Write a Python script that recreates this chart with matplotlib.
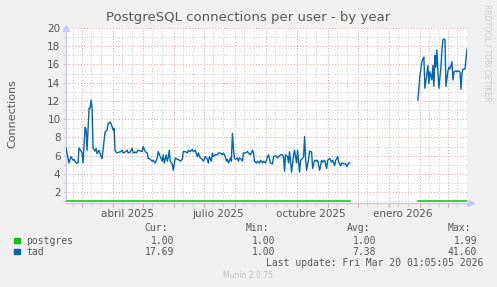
import numpy as np
import matplotlib
matplotlib.use("Agg")
import matplotlib.pyplot as plt
import matplotlib.dates as mdates
import matplotlib.transforms as mtransforms

# time window of the munin "by year" graph (400 days up to last update)
start = np.datetime64("2025-02-13T01:05")
end = np.datetime64("2026-03-20T01:05")

# tad: days since start, value (nan = gap with no data)
tad_days = [0, 3, 5, 7, 8, 10, 12, 13, 15, 16, 17, 19, 20, 21, 23, 24, 25, 26, 27, 29,
            30, 31, 33, 35, 36, 37, 39, 41, 42, 44, 46, 47, 48, 49, 51, 53, 54, 56, 57, 59,
            61, 62, 64, 66, 67, 69, 70, 72, 76, 77, 79, 81, 82, 84, 86, 87, 89, 91, 92, 94,
            96, 97, 98, 100, 101, 102, 103, 104, 106, 107, 108, 109, 111, 112, 114, 116, 117, 119, 121, 122,
            124, 126, 127, 129, 131, 132, 134, 136, 137, 139, 141, 142, 143, 145, 146, 147, 149, 151, 152, 154,
            156, 157, 159, 160, 161, 162, 164, 165, 166, 167, 168, 169, 171, 172, 173, 175, 176, 177, 179, 181,
            182, 184, 186, 187, 188, 190, 191, 193, 194, 196, 197, 199, 201, 202, 204, 206, 207, 209, 211, 212,
            214, 216, 217, 218, 219, 221, 222, 223, 225, 227, 228, 230, 231, 233, 234, 236, 237, 238, 239, 240,
            242, 243, 245, 246, 248, 250, 251, 253, 255, 256, 258, 260, 261, 263, 265, 266, 268, 269, 271, 272,
            274, 275, 277, 279, 280, 282, 283,
            300,
            351, 353, 355, 356, 357, 358, 360, 361, 362, 363, 365, 366, 367, 368, 369, 370, 371, 372, 374, 375,
            376, 377, 378, 379, 381, 382, 383, 385, 386, 387, 389, 390, 391, 393, 394, 395, 396, 398, 400]
tad_vals = [6.85, 5.2, 5.9, 5.5, 5.6, 5.2, 5.2, 6.85, 6.5, 6.3, 5.2, 9.1, 8.9, 6.6, 11.2, 11.2, 12.1, 11.3, 6.8, 6.5,
            6.8, 6.2, 6.6, 5.9, 5.7, 6.7, 8.6, 8.8, 9.5, 9.7, 9.2, 8.8, 9.0, 6.5, 6.3, 6.4, 6.4, 6.6, 6.3, 6.4,
            6.6, 6.3, 6.4, 6.8, 6.3, 6.4, 6.3, 6.6, 6.45, 7.0, 6.45, 6.3, 5.75, 5.6, 5.4, 5.5, 5.2, 5.75, 6.45, 5.9,
            5.4, 6.1, 5.2, 6.1, 5.4, 5.75, 6.6, 5.4, 5.1, 4.4, 5.1, 5.75, 5.6, 5.6, 5.4, 5.6, 6.45, 6.45, 6.3, 6.6,
            6.45, 6.7, 6.45, 6.6, 5.9, 6.3, 5.75, 5.6, 5.4, 5.9, 5.6, 5.2, 5.9, 5.4, 6.3, 5.9, 6.1, 6.1, 6.3, 6.3,
            6.1, 6.3, 5.9, 5.4, 5.6, 5.2, 5.75, 5.4, 8.45, 6.8, 5.75, 5.6, 5.75, 5.4, 5.75, 5.6, 5.4, 6.3, 6.3, 6.45,
            6.3, 6.1, 6.6, 6.3, 5.4, 5.2, 5.4, 5.2, 5.5, 5.2, 5.4, 5.2, 5.9, 6.1, 5.2, 5.1, 5.9, 6.0, 5.75, 5.9,
            6.1, 6.1, 5.9, 4.3, 6.1, 5.9, 5.2, 6.45, 4.2, 6.1, 6.6, 5.2, 6.6, 4.2, 5.5, 5.7, 5.9, 8.1, 5.6, 4.4,
            5.6, 6.5, 6.4, 4.6, 5.5, 5.4, 5.5, 4.4, 5.5, 5.3, 5.5, 4.6, 5.5, 5.7, 5.3, 5.5, 4.9, 5.5, 5.9, 5.3,
            4.9, 5.2, 5.1, 5.1, 4.8, 5.2, 5.2,
            np.nan,
            12.1, 14.7, 16.3, 16.6, 16.8, 13.4, 15.0, 15.9, 13.9, 15.2, 14.3, 15.9, 13.6, 17.0, 15.7, 17.6, 15.2, 13.4, 15.7, 17.6,
            18.7, 18.8, 18.7, 13.6, 15.3, 15.7, 15.5, 16.3, 14.3, 15.2, 15.3, 15.2, 15.3, 15.2, 13.3, 15.0, 15.5, 15.5, 17.7]

# postgres stays at 1 connection (same gap as tad)
pg_days = [0, 283, 300, 351, 400]
pg_vals = [1.0, 1.0, np.nan, 1.0, 1.0]

series = ["postgres", "tad"]
colors = ["#00cc00", "#0066b3"]
cur = ["1.00", "17.69"]
mins = ["1.00", "1.00"]
avgs = ["1.00", "7.38"]
maxs = ["1.99", "41.60"]

month_labels = [("2025-04-15", "abril 2025"), ("2025-07-15", "julio 2025"),
                ("2025-10-15", "octubre 2025"), ("2026-01-15", "enero 2026")]

W, H = 497, 287
fig = plt.figure(figsize=(W / 100, H / 100), dpi=100, facecolor="#f0f0f0")
ax = fig.add_axes([66 / W, 1 - 203.3 / H, 401 / W, 175.3 / H])
ax.set_facecolor("white")

t0 = mdates.date2num(start.astype(object))
t1 = mdates.date2num(end.astype(object))

ax.plot(t0 + np.asarray(pg_days, float), pg_vals, color=colors[0], lw=1.1, zorder=3)
ax.plot(t0 + np.asarray(tad_days, float), tad_vals, color=colors[1], lw=1.0, zorder=4)

ax.set_xlim(t0, t1)
ax.set_ylim(0.78, 20)

ax.xaxis.set_major_locator(mdates.MonthLocator())
ax.xaxis.set_minor_locator(mdates.DayLocator(bymonthday=[10, 20]))
ax.xaxis.set_major_formatter(plt.NullFormatter())
ax.yaxis.set_major_locator(plt.MultipleLocator(2))
ax.yaxis.set_minor_locator(plt.MultipleLocator(1))

ax.grid(which="major", color="#f0a0a0", lw=0.7, ls=(0, (1, 2)))
ax.grid(which="minor", color="#cccccc", lw=0.7, ls=(0, (1, 2)))
ax.set_axisbelow(True)

for s in ["top", "right"]:
    ax.spines[s].set_visible(False)
for s in ["left", "bottom"]:
    ax.spines[s].set_color("#c8c8f8")
    ax.spines[s].set_linewidth(1.0)

ax.tick_params(which="major", axis="x", length=3, color="#f0a0a0", direction="out")
ax.tick_params(which="minor", axis="x", length=2, color="#cccccc", direction="out")
ax.tick_params(which="both", axis="y", length=2, color="#cccccc", direction="out",
               labelsize=7.5, labelcolor="#555555", pad=2)

# axis arrows
ax.plot([0], [1.0], marker="^", ms=4, color="#c8c8f8", transform=ax.transAxes,
        clip_on=False, zorder=5)
ax.plot([1.01], [0], marker=">", ms=4, color="#c8c8f8", transform=ax.transAxes,
        clip_on=False, zorder=5)

trans = mtransforms.blended_transform_factory(ax.transData, ax.transAxes)
for d, lab in month_labels:
    ax.text(mdates.datestr2num(d), -0.035, lab, transform=trans, ha="center", va="top",
            fontsize=7.5, color="#555555")

fig.text(248 / W, 1 - 18 / H, "PostgreSQL connections per user - by year",
         ha="center", va="center", fontsize=9.5, color="#555555")
fig.text(12 / W, 1 - 114 / H, "Connections", rotation=90, ha="center", va="center",
         fontsize=8, color="#555555")
fig.text(487 / W, 1 - 53 / H, "RRDTOOL / TOBI OETIKER", rotation=270, ha="center",
         va="center", fontsize=5.5, color="#cccccc")

mono = "DejaVu Sans Mono"
fs = 7
col_right = [174, 275, 376, 477]
heads = ["Cur:", "Min:", "Avg:", "Max:"]
for xr, h in zip(col_right, heads):
    fig.text((xr - 6) / W, 1 - 228 / H, h, ha="right", va="center", family=mono,
             fontsize=fs, color="#555555")

for i, name in enumerate(series):
    y = 240.5 + i * 11.3
    fig.patches.append(plt.Rectangle((14 / W, 1 - (y + 2.5) / H), 5.5 / W, 5.5 / H,
                                     transform=fig.transFigure, color=colors[i]))
    fig.text(26 / W, 1 - y / H, name, ha="left", va="center", family=mono,
             fontsize=fs, color="#555555")
    for xr, v in zip(col_right, [cur[i], mins[i], avgs[i], maxs[i]]):
        fig.text(xr / W, 1 - y / H, v, ha="right", va="center", family=mono,
                 fontsize=fs, color="#555555")

fig.text(483 / W, 1 - 263 / H, "Last update: Fri Mar 20 01:05:05 2026", ha="right",
         va="center", family=mono, fontsize=fs, color="#555555")
fig.text(248 / W, 1 - 276 / H, "Munin 2.0.75", ha="center", va="center",
         fontsize=5.5, color="#c0c0c0")

fig.savefig("out.png", dpi=100, facecolor=fig.get_facecolor())
